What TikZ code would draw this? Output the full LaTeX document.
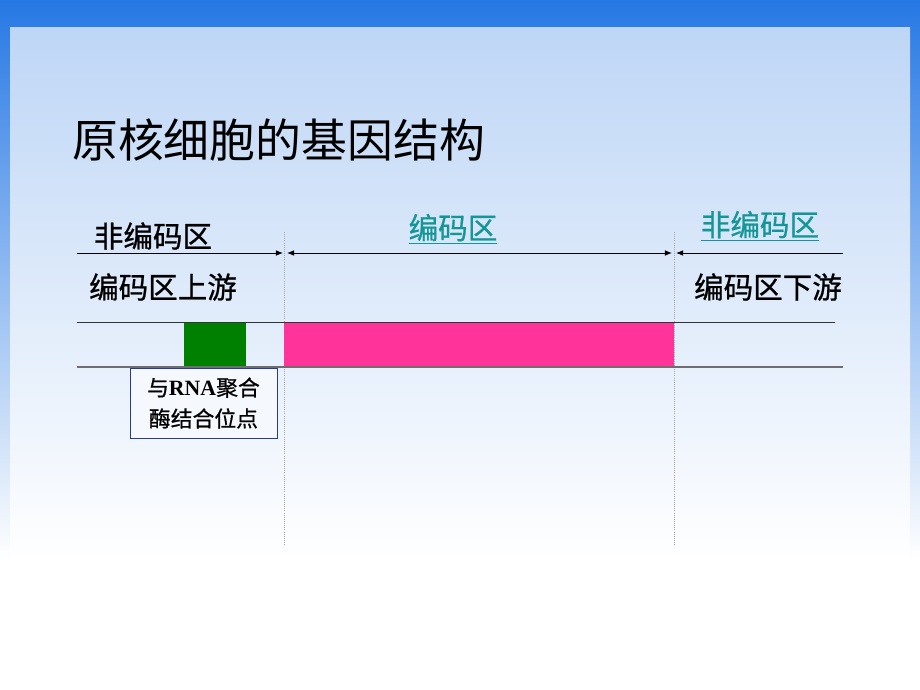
\documentclass[tikz,border=0pt]{standalone}
\usepackage{fontspec}
\newfontfamily\cjk{Noto Sans CJK SC}
\newfontfamily\cjkb[FakeBold=0.8]{Noto Sans CJK SC}
\newfontfamily\tnr{Liberation Serif}
\usetikzlibrary{arrows.meta}
\definecolor{frameblue}{RGB}{38,120,228}
\definecolor{panelblue}{RGB}{190,214,246}
\definecolor{linkteal}{RGB}{20,150,150}
\definecolor{genepink}{RGB}{255,51,153}
\definecolor{sitegreen}{RGB}{0,128,0}
\definecolor{boxblue}{RGB}{40,60,150}
\definecolor{bargray}{RGB}{110,110,110}
\tikzset{
  lbl/.style={font=\cjkb\fontsize{21}{25}\selectfont, inner sep=0pt},
  lnk/.style={lbl, text=linkteal},
  dimline/.style={line width=0.6pt, -{Latex[length=5pt,width=4pt]}},
  guide/.style={gray!70, densely dotted, line width=0.5pt}
}
\begin{document}
\begin{tikzpicture}[x=0.025cm,y=-0.025cm]
  \useasboundingbox (0,0) rectangle (920,690);
  % background
  \shade[top color=frameblue, bottom color=white] (0,0) rectangle (920,560);
  \fill[white] (0,560) rectangle (920,690);
  \shade[top color=panelblue, bottom color=white] (10,28) rectangle (910,560);
  \fill[white] (10,555) rectangle (910,690);
  % title
  \node[anchor=west, font=\cjk\fontsize{32.6}{38}\selectfont, inner sep=0pt] (title) at (72,140) {原核细胞的基因结构};
  % region labels
  \node[lbl] (up) at (153,236) {非编码区};
  \node[lnk] (cod) at (453,229) {\underline{编码区}};
  \node[lnk] (down) at (760,226) {\underline{非编码区}};
  \node[lbl] (upstream) at (163,287) {编码区上游};
  \node[lbl] (downstream) at (768,287) {编码区下游};
  % dimension line
  \coordinate (a0) at (77,253);
  \coordinate (a1) at (283,253);
  \coordinate (a2) at (287,253);
  \coordinate (a3) at (672,253);
  \coordinate (a4) at (676,253);
  \coordinate (a5) at (843,253);
  \draw[dimline] (a0) -- (a1);
  \draw[dimline, {Latex[length=5pt,width=4pt]}-{Latex[length=5pt,width=4pt]}] (a2) -- (a3);
  \draw[dimline, {Latex[length=5pt,width=4pt]}-] (a4) -- (a5);
  % guides
  \coordinate (g1) at (284,232);
  \coordinate (g1e) at (284,545);
  \coordinate (g2) at (674,232);
  \coordinate (g2e) at (674,545);
  \draw[guide] (g1) -- (g1e);
  \draw[guide] (g2) -- (g2e);
  % gene
  \fill[sitegreen] (184,322) rectangle (246,367);
  \fill[genepink] (284,322) rectangle (674,367);
  \coordinate (b0) at (77,322);
  \coordinate (b1) at (835,322);
  \coordinate (c0) at (77,367);
  \coordinate (c1) at (843,367);
  \draw[line width=0.7pt, black!80] (b0) -- (b1);
  \draw[line width=1.3pt, bargray] (c0) -- (c1);
  % binding site box
  \node[draw=boxblue, line width=0.7pt, fill=white!85!panelblue, minimum width=147*0.025cm, minimum height=70*0.025cm, align=center, font=\cjkb\fontsize{15.5}{22}\selectfont, inner sep=0pt] (site) at (203.5,403) {与{\tnr\bfseries RNA}聚合\\酶结合位点};
\end{tikzpicture}
\end{document}
